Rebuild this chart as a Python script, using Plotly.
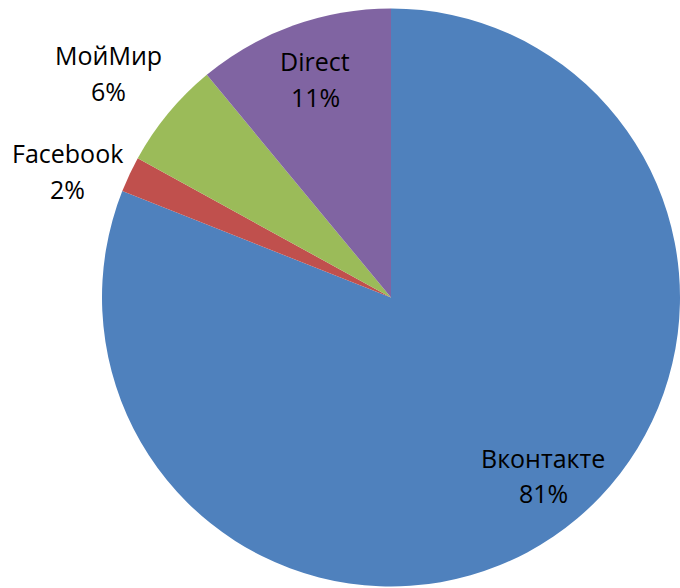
import plotly.graph_objects as go

labels = ["Вконтакте", "Facebook", "МойМир", "Direct"]
values = [81, 2, 6, 11]
colors = ["#4F81BD", "#C0504D", "#9BBB59", "#8064A2"]

# label block positions in the window (pixels: name line centre, percent line centre)
name_pos = [(543, 459), (67, 154), (108, 56), (315, 62)]
pct_pos = [(543, 494), (67, 190), (108, 92), (315, 98)]

W, H = 680, 588
cx, cy, r = 391, 297.5, 289

fig = go.Figure(go.Pie(
    labels=labels, values=values, sort=False, direction="clockwise", rotation=0,
    marker=dict(colors=colors, line=dict(width=0)),
    textinfo="none", hoverinfo="label+percent", showlegend=False,
    domain=dict(x=[(cx - r) / W, min(1, (cx + r) / W)], y=[max(0, 1 - (cy + r) / H), 1 - (cy - r) / H]),
))

total = sum(values)
font = dict(family="Open Sans, Liberation Sans, sans-serif", size=25, color="#000000")
for lab, v, (nx, ny), (px, py) in zip(labels, values, name_pos, pct_pos):
    fig.add_annotation(x=nx / W, y=1 - (ny - 1) / H, xref="paper", yref="paper",
                       text=lab, showarrow=False, xanchor="center", yanchor="middle", font=font)
    fig.add_annotation(x=px / W, y=1 - (py - 1) / H, xref="paper", yref="paper",
                       text=f"{round(100 * v / total)}%",
                       showarrow=False, xanchor="center", yanchor="middle", font=font)

fig.update_layout(width=W, height=H, margin=dict(l=0, r=0, t=0, b=0),
                  paper_bgcolor="white", plot_bgcolor="white")
fig.write_html("out.html", config={"displayModeBar": False},
               post_script="document.body.style.margin='0';document.body.style.overflow='hidden';")
